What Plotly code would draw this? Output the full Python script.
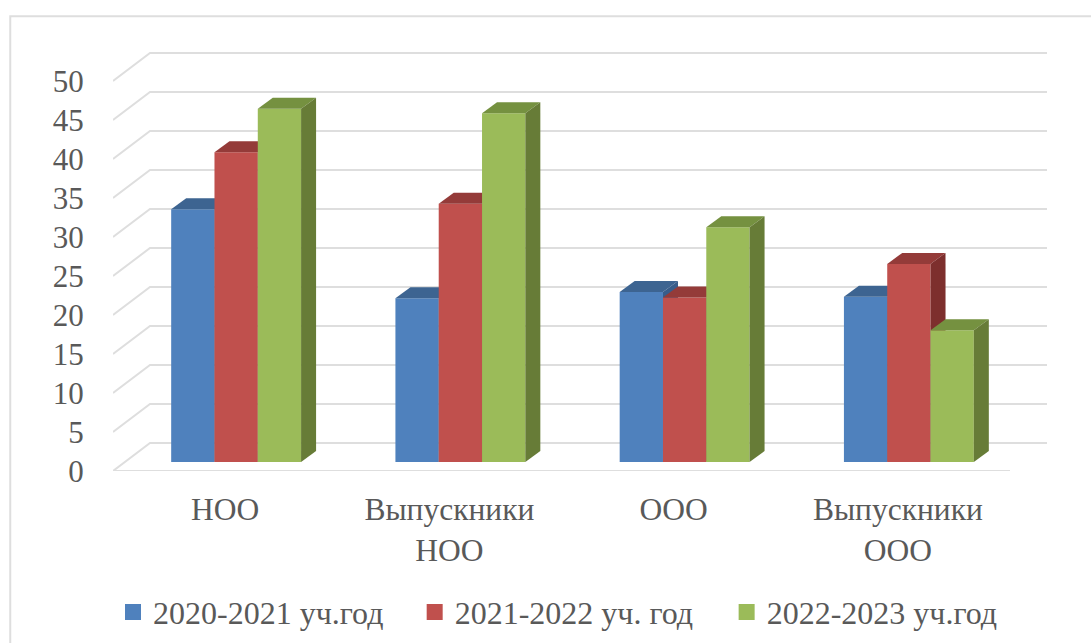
import plotly.graph_objects as go

CATEGORIES = ["НОО", "Выпускники<br>НОО", "ООО", "Выпускники<br>ООО"]
SERIES = ["2020-2021 уч.год", "2021-2022 уч. год", "2022-2023 уч.год"]
VALUES_2021 = [32.4, 21.0, 21.8, 21.2]
VALUES_2122 = [39.7, 33.1, 21.1, 25.4]
VALUES_2223 = [45.3, 44.7, 30.1, 16.9]
Y_TICKS = [0, 5, 10, 15, 20, 25, 30, 35, 40, 45, 50]

FRONT = ["#4f81bd", "#c0504d", "#9bbb59"]
TOP = ["#3d6491", "#943b39", "#759140"]
SIDE = ["#385d8a", "#7d2f2d", "#677c37"]
GRID = "#dedede"
TEXT = "#595959"
FONT = "Liberation Serif"

# fake 3d: everything is in axis units, pixels are only used to size the plot
PX_X = 224.25
PX_Y = 7.8
WALL_DX = 37 / PX_X
WALL_DY = 28 / PX_Y
BAR_DX = 15 / PX_X
BAR_DY = 11 / PX_Y
BAR_BASE = 9 / PX_Y
BAR_W = 43.3 / PX_X
BAR_SHIFT = 11 / PX_X

X_MIN = -0.5
X_MAX = 3.5
Y_MAX = 55

fig = go.Figure()

# back wall and floor
for v in Y_TICKS:
    fig.add_trace(go.Scatter(
        x=[X_MIN, X_MIN + WALL_DX, X_MAX + WALL_DX],
        y=[v, v + WALL_DY, v + WALL_DY],
        mode="lines", line=dict(color=GRID, width=2),
        hoverinfo="skip", showlegend=False,
    ))
fig.add_trace(go.Scatter(
    x=[X_MIN, X_MAX], y=[0, 0],
    mode="lines", line=dict(color=GRID, width=2),
    hoverinfo="skip", showlegend=False,
))

# one overlaid axis pair per series, so a later series covers the faces of the one before
all_values = [VALUES_2021, VALUES_2122, VALUES_2223]
for k, values in enumerate(all_values):
    xa = f"x{k + 2}"
    ya = f"y{k + 2}"
    centers = [i + BAR_SHIFT + (k - 1) * BAR_W for i in range(len(values))]
    fig.add_trace(go.Bar(
        x=centers, y=values, base=BAR_BASE, width=BAR_W,
        name=SERIES[k], legendgroup=SERIES[k], showlegend=False,
        marker=dict(color=FRONT[k], line=dict(width=0)),
        xaxis=xa, yaxis=ya,
    ))
    for c, v in zip(centers, values):
        left = c - BAR_W / 2
        right = c + BAR_W / 2
        top = BAR_BASE + v
        fig.add_trace(go.Scatter(
            x=[left, left + BAR_DX, right + BAR_DX, right, left],
            y=[top, top + BAR_DY, top + BAR_DY, top, top],
            mode="lines", fill="toself", fillcolor=TOP[k], line=dict(width=0),
            legendgroup=SERIES[k], showlegend=False, hoverinfo="skip",
            xaxis=xa, yaxis=ya,
        ))
        fig.add_trace(go.Scatter(
            x=[right, right + BAR_DX, right + BAR_DX, right, right],
            y=[BAR_BASE, BAR_BASE + BAR_DY, top + BAR_DY, top, BAR_BASE],
            mode="lines", fill="toself", fillcolor=SIDE[k], line=dict(width=0),
            legendgroup=SERIES[k], showlegend=False, hoverinfo="skip",
            xaxis=xa, yaxis=ya,
        ))
    # legend swatch, the bar one is too small
    fig.add_trace(go.Scatter(
        x=[None], y=[None], mode="markers", name=SERIES[k], legendgroup=SERIES[k],
        marker=dict(symbol="square", size=16, color=FRONT[k]),
        legend="legend" if k == 0 else f"legend{k + 1}",
        xaxis=xa, yaxis=ya,
    ))

x_range = [X_MIN, X_MAX + WALL_DX]
y_range = [0, Y_MAX]

# the three swatches are not evenly spaced in the original, so one legend each
legend_x = [0.0, 0.323, 0.657]
legend_style = dict(
    orientation="h", y=-0.265, xanchor="left", yanchor="top",
    font=dict(size=32, color=TEXT), bgcolor="rgba(0,0,0,0)",
)

layout = dict(
    width=1091,
    height=643,
    margin=dict(l=113, r=44, t=41.7, b=172.3, autoexpand=False),
    paper_bgcolor="white",
    plot_bgcolor="rgba(0,0,0,0)",
    font=dict(family=FONT, size=31, color=TEXT),
    barmode="overlay",
    xaxis=dict(
        range=x_range, tickmode="array", tickvals=list(range(len(CATEGORIES))), ticktext=CATEGORIES,
        tickfont=dict(size=31.5),
        showgrid=False, zeroline=False, showline=False,
        ticks="outside", ticklen=10, tickcolor="rgba(0,0,0,0)",
    ),
    yaxis=dict(
        range=y_range, tickmode="array", tickvals=Y_TICKS,
        showgrid=False, zeroline=False, showline=False,
        ticks="outside", ticklen=22, tickcolor="rgba(0,0,0,0)",
    ),
    legend=dict(x=legend_x[0], **legend_style),
    legend2=dict(x=legend_x[1], **legend_style),
    legend3=dict(x=legend_x[2], **legend_style),
    shapes=[dict(
        type="rect", xref="paper", yref="paper",
        x0=-0.11, x1=1.2, y0=-0.6, y1=1.06,
        line=dict(color=GRID, width=2), layer="below",
    )],
)
for k in range(len(all_values)):
    layout[f"xaxis{k + 2}"] = dict(range=x_range, overlaying="x", visible=False)
    layout[f"yaxis{k + 2}"] = dict(range=y_range, overlaying="y", visible=False)
fig.update_layout(**layout)

# body margin would push the 1091x643 figure out of the window
fig.write_html(
    "out.html",
    config={"displayModeBar": False},
    post_script="document.body.style.margin = '0';",
)
